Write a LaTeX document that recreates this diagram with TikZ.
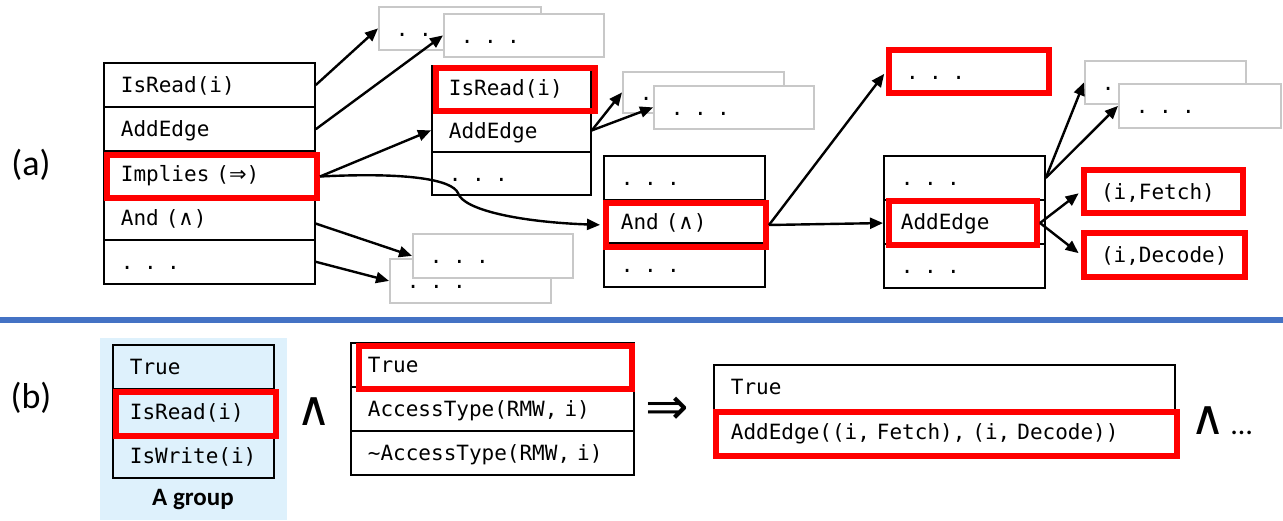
\documentclass[tikz,border=0pt]{standalone}
\usepackage{fontspec}
\setmainfont{Carlito}
\setmonofont{DejaVu Sans Mono}
\newfontfamily\djv{DejaVu Sans}
\usetikzlibrary{arrows.meta}
\definecolor{hlred}{RGB}{255,0,0}
\definecolor{boxgray}{RGB}{200,200,200}
\definecolor{sepblue}{RGB}{68,114,196}
\definecolor{grpbg}{RGB}{222,241,252}
\tikzset{
  cell/.style={draw=black, line width=1.8pt, rectangle, anchor=north west,
    inner xsep=17pt, inner ysep=0pt, text width=#1, align=left,
    font=\fontsize{21}{24}\ttfamily, text height=15.3pt, text depth=0pt},
  gbox/.style={cell=#1, draw=boxgray},
  rbox/.style={cell=#1, draw=hlred, line width=6pt},
  hl/.style={draw=hlred, line width=6pt, rectangle, anchor=north west, inner sep=0pt},
  arr/.style={-{Triangle[length=13pt,width=11pt]}, line width=2.4pt},
  lbl/.style={font=\fontsize{36}{40}\selectfont},
  opsym/.style={font=\fontsize{#1}{#1}\djv, inner sep=0pt},
}
\begin{document}
\begin{tikzpicture}[x=1pt, y=-1pt]
\useasboundingbox (0,0) rectangle (1283,521);
\fill[white] (0,0) rectangle (1283,521);

% ---------- (a) ----------
\node[lbl] (la) at (31,165) {(a)};

% box A
\node[cell=177pt, minimum height=44.2pt] (A1) at (103,62) {IsRead(i)};
\node[cell=177pt, minimum height=44.2pt] (A2) at (103,106.2) {AddEdge};
\node[cell=177pt, minimum height=44.2pt] (A3) at (103,150.4) {Implies ({\djv ⇒})};
\node[cell=177pt, minimum height=44.2pt] (A4) at (103,194.6) {And ({\djv ∧})};
\node[cell=177pt, minimum height=44.2pt] (A5) at (103,238.8) {. . .};

% box B
\node[cell=125pt, minimum height=43pt] (B1) at (431,65) {IsRead(i)};
\node[cell=125pt, minimum height=43pt] (B2) at (431,108) {AddEdge};
\node[cell=125pt, minimum height=43pt] (B3) at (431,151) {. . .};

% box C
\node[cell=127pt, minimum height=43.7pt] (C1) at (603,155) {. . .};
\node[cell=127pt, minimum height=43.7pt] (C2) at (603,198.7) {And ({\djv ∧})};
\node[cell=127pt, minimum height=43.7pt] (C3) at (603,242.4) {. . .};

% box D
\node[cell=127pt, minimum height=44pt] (D1) at (883,155) {. . .};
\node[cell=127pt, minimum height=44pt] (D2) at (883,199) {AddEdge};
\node[cell=127pt, minimum height=44pt] (D3) at (883,243) {. . .};

% gray boxes
\node[gbox=128pt, minimum height=43pt] (G1) at (378,6) {. . .};
\node[gbox=126pt, minimum height=43pt, fill=white] (G2) at (443,13) {. . .};
\node[gbox=127pt, minimum height=41pt] (G3a) at (622,71) {. . .};
\node[gbox=126pt, minimum height=43pt, fill=white] (G3b) at (653,85) {. . .};
\node[gbox=127pt, minimum height=44pt] (G5) at (389,258) {. . .};
\node[gbox=126pt, minimum height=44pt, fill=white] (G4) at (412,233) {. . .};
\node[gbox=127pt, minimum height=43pt] (G6a) at (1084,60) {. . .};
\node[gbox=128pt, minimum height=44pt, fill=white] (G6b) at (1118,83) {. . .};

% red boxes with text
\node[rbox=126pt, minimum height=43pt] (R1) at (886,47) {. . .};
\node[rbox=125pt, minimum height=43pt] (Fe) at (1081,167) {(i,Fetch)};
\node[rbox=127pt, minimum height=44pt] (De) at (1081,230) {(i,Decode)};

% highlights
\node[hl, minimum width=210pt, minimum height=43pt] (A3h) at (104,152) {};
\node[hl, minimum width=159pt, minimum height=43pt] (B1h) at (433,65) {};
\node[hl, minimum width=160pt, minimum height=44pt] (C2h) at (603,200) {};
\node[hl, minimum width=148pt, minimum height=44pt] (D2h) at (886,198) {};

% arrows
\draw[arr] (A1.east) -- (G1.west);
\draw[arr] (A2.east) -- (G2.west);
\draw[arr] (A3h.east) -- (B2.west);
\draw[arr, shorten >=3pt] (A3h.east) .. controls (410,172) and (452,180) .. (458,193)
   .. controls (463,210) and (520,222) .. (C2h.west);
\draw[arr] ([yshift=-6pt]A4.east) -- (G4.west);
\draw[arr] (A5.east) -- (G5.west);
\draw[arr] (B2.east) -- (G3a.west);
\draw[arr] (B2.east) -- (G3b.west);
\draw[arr, shorten >=3pt] (C2h.east) -- (R1.west);
\draw[arr, shorten >=3pt] (C2h.east) -- (D2h.west);
\draw[arr] (D1.east) -- (G6a.west);
\draw[arr] (D1.east) -- (G6b.west);
\draw[arr, shorten >=3pt] (D2h.east) -- (Fe.west);
\draw[arr, shorten >=3pt] (D2h.east) -- (De.west);

% separator
\coordinate (sepL) at (0,320);
\coordinate (sepR) at (1283,320);
\draw[sepblue, line width=5.5pt] (sepL) -- (sepR);

% ---------- (b) ----------
\node[lbl] (lb) at (31,398) {(b)};
\node[fill=grpbg, anchor=north west, minimum width=187pt, minimum height=182pt, inner sep=0pt] (bg) at (100,338) {};
\node[font=\fontsize{25}{28}\selectfont\bfseries] (grp) at (193,500) {A group};

\node[cell=127pt, minimum height=44.3pt] (P1) at (112,344) {True};
\node[cell=127pt, minimum height=44.3pt] (P2) at (112,388.3) {IsRead(i)};
\node[cell=127pt, minimum height=44.3pt] (P3) at (112,432.6) {IsWrite(i)};
\node[hl, minimum width=160pt, minimum height=44pt] (P2h) at (113,389) {};

\node[opsym=48] (and1) at (314,412) {∧};

\node[cell=249pt, minimum height=44pt] (E1) at (350,342) {True};
\node[cell=249pt, minimum height=44pt] (E2) at (350,386) {AccessType(RMW, i)};
\node[cell=249pt, minimum height=44pt] (E3) at (350,430) {\textasciitilde AccessType(RMW, i)};
\node[hl, minimum width=273pt, minimum height=43pt] (E1h) at (356,343) {};

\node[opsym=52] (impl) at (667,411) {⇒};

\node[cell=427pt, minimum height=44.5pt] (H1) at (713,364) {True};
\node[cell=427pt, minimum height=44.5pt] (H2) at (713,408.5) {AddEdge((i, Fetch), (i, Decode))};
\node[hl, minimum width=461pt, minimum height=44pt] (H2h) at (713,409) {};

\node[anchor=west, inner sep=0pt] (and2) at (1190,421) {{\fontsize{48}{48}\djv ∧}\hspace{6pt}{\fontsize{30}{34}\selectfont …}};
\end{tikzpicture}
\end{document}
